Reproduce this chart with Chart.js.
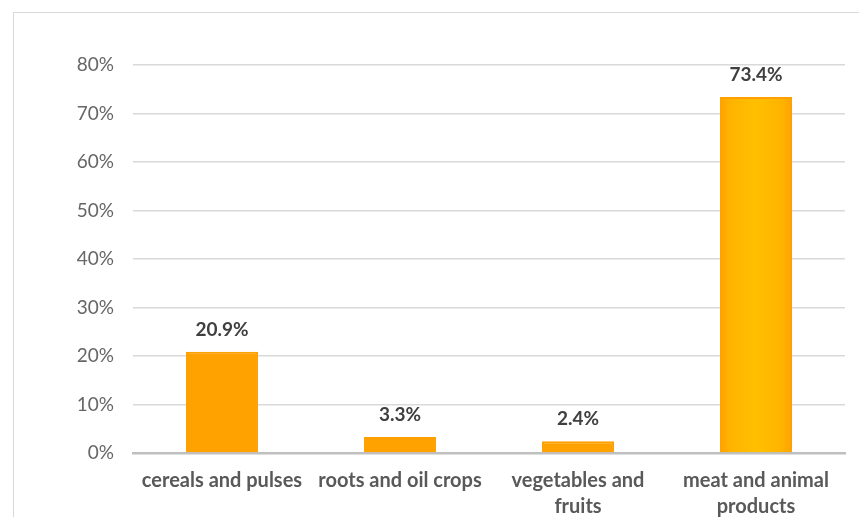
<!DOCTYPE html>
<html>
<head>
<meta charset="utf-8">
<script src="https://cdn.jsdelivr.net/npm/chart.js@4/dist/chart.umd.min.js"></script>
<style>
  html, body { margin: 0; padding: 0; background: #fff; overflow: hidden; }
  #frame { position: absolute; left: 13px; top: 12px; width: 900px; height: 600px; border: 1.5px solid #D9D9D9; box-sizing: border-box; }
  #wrap { position: absolute; left: 0; top: 0; width: 859px; height: 517px; }
</style>
</head>
<body>
<div id="frame"></div>
<div id="wrap"><canvas id="c" width="859" height="517"></canvas></div>
<script>
const categories = [["cereals and pulses"], ["roots and oil crops"], ["vegetables and", "fruits"], ["meat and animal", "products"]];
const shares = [20.9, 3.3, 2.4, 73.4];
const yTicks = [0, 10, 20, 30, 40, 50, 60, 70, 80];

const FONT = "Lato, 'Open Sans', sans-serif";

const labelPlugin = {
  id: 'barLabels',
  afterDatasetsDraw(chart) {
    const ctx = chart.ctx;
    const meta = chart.getDatasetMeta(0);
    ctx.save();
    ctx.font = "bold 19px " + FONT;
    ctx.fillStyle = '#404040';
    ctx.textAlign = 'center';
    ctx.textBaseline = 'alphabetic';
    meta.data.forEach((bar, i) => {
      ctx.fillText(shares[i].toFixed(1) + '%', bar.x, bar.y - 16);
    });
    ctx.restore();
  }
};

// soft orange glow inside the bars (Excel-style gradient), applied per bar from its own geometry
const glowPlugin = {
  id: 'barGlow',
  beforeDatasetsDraw(chart) {
    const meta = chart.getDatasetMeta(0);
    meta.data.forEach(bar => {
      const x0 = bar.x - bar.width / 2, x1 = bar.x + bar.width / 2;
      const g = chart.ctx.createLinearGradient(x0, 0, x1, 0);
      g.addColorStop(0, '#FFA200');
      g.addColorStop(0.15, '#FFB400');
      g.addColorStop(0.5, '#FFBF00');
      g.addColorStop(0.85, '#FFB400');
      g.addColorStop(1, '#FFA200');
      bar.options.backgroundColor = g;
    });
  }
};

const ctx = document.getElementById('c').getContext('2d');

new Chart(ctx, {
  type: 'bar',
  data: {
    labels: categories,
    datasets: [{
      data: shares,
      backgroundColor: '#FFB800',
      borderColor: '#FFA000',
      borderWidth: 2,
      borderSkipped: 'bottom',
      categoryPercentage: 1,
      barPercentage: 0.405
    }]
  },
  options: {
    responsive: false,
    animation: false,
    devicePixelRatio: 1,
    layout: { padding: { top: 65, right: 14, left: 0, bottom: 0 } },
    plugins: { legend: { display: false }, tooltip: { enabled: false } },
    scales: {
      x: {
        grid: { display: false, drawTicks: false },
        border: { display: true, color: '#BFBFBF', width: 2.5 },
        ticks: { color: '#595959', font: { family: FONT, size: 20, weight: 'bold', lineHeight: 1.3 }, padding: 15, maxRotation: 0, autoSkip: false },
        afterFit(scale) { scale.height = 64; }
      },
      y: {
        min: 0, max: 80,
        afterBuildTicks(scale) { scale.ticks = yTicks.map(v => ({ value: v })); },
        grid: { color: '#D9D9D9', lineWidth: 1.5, drawTicks: false },
        border: { display: false },
        ticks: { color: '#666666', font: { family: FONT, size: 19 }, padding: 19, callback: v => v + '%' },
        afterFit(scale) { scale.width = 133; }
      }
    }
  },
  plugins: [glowPlugin, labelPlugin]
});
</script>
</body>
</html>
